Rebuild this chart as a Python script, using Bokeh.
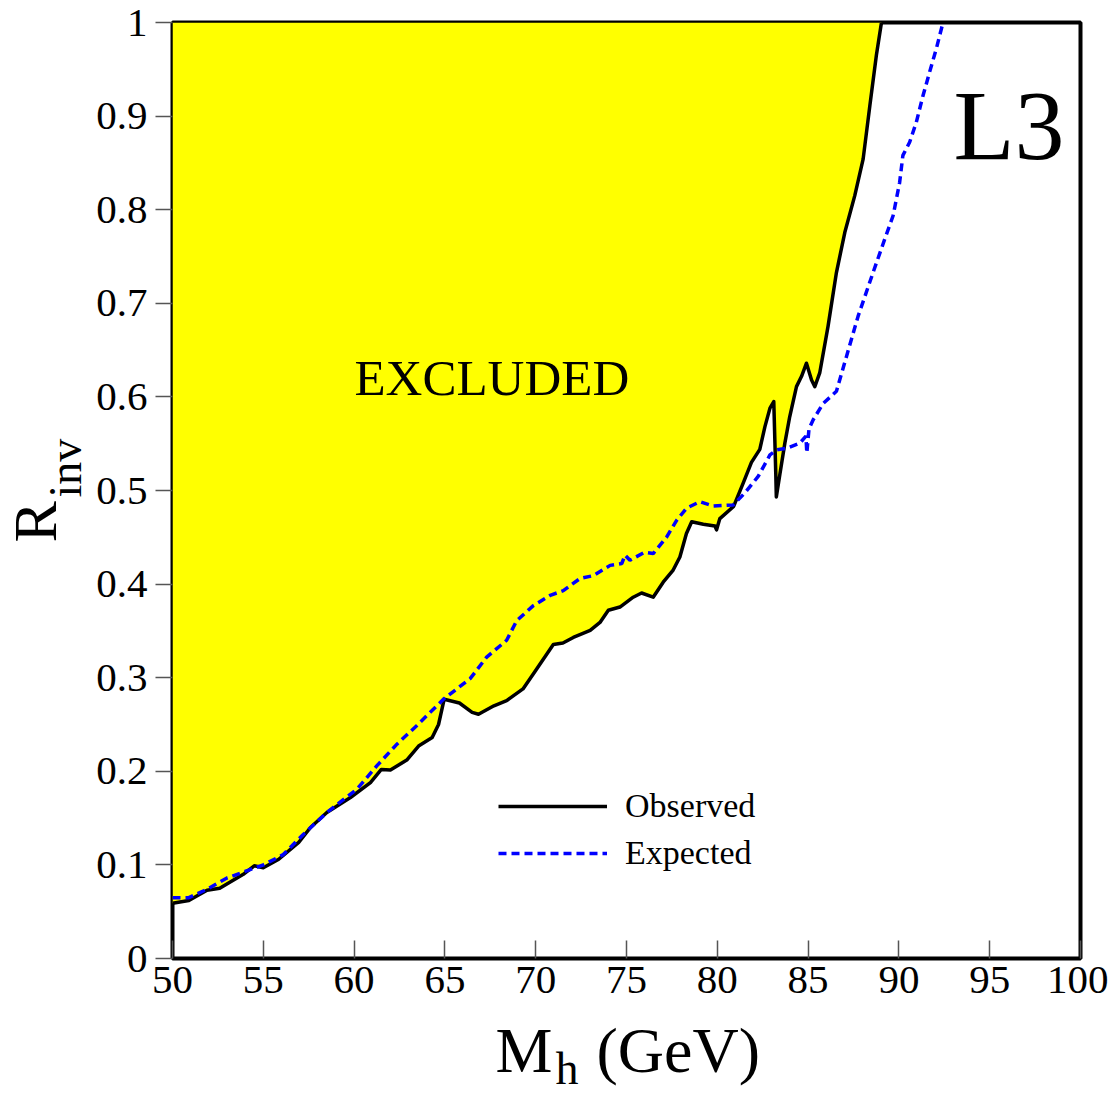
import math
from bokeh.plotting import figure
from bokeh.models import Range1d, FixedTicker, Label, Legend, LegendItem
from bokeh.layouts import row, column
from bokeh.embed import file_html
from bokeh.resources import INLINE

# Observed limit (Higgs mass in GeV, R_inv)
obs_mass = [50.0, 50.9, 51.9, 52.6, 53.9, 54.5, 55.0, 55.85, 56.95, 57.6, 58.5, 59.8,
            60.9, 61.5, 62.0, 62.9, 63.55, 64.3, 64.65, 64.96, 65.8, 66.5, 66.85, 67.7,
            68.4, 69.3, 69.97, 70.97, 71.5, 72.07, 73.0, 73.54, 74.0, 74.64, 75.37, 75.83,
            76.47, 77.02, 77.57, 77.94, 78.3, 78.59, 79.23, 79.87, 79.96, 80.14, 80.9,
            81.42, 81.88, 82.34, 82.62, 82.9, 83.11, 83.22, 83.25, 83.44, 83.72, 83.99,
            84.36, 84.64, 84.91, 85.19, 85.37, 85.64, 86.1, 86.56, 87.02, 87.57, 88.03,
            88.4, 88.76, 89.04]
obs_r = [0.059, 0.062, 0.073, 0.075, 0.090, 0.099, 0.097, 0.106, 0.124, 0.140, 0.156, 0.172,
         0.188, 0.202, 0.2015, 0.212, 0.227, 0.236, 0.250, 0.277, 0.273, 0.263, 0.261, 0.270,
         0.2755, 0.288, 0.307, 0.3355, 0.337, 0.343, 0.3505, 0.359, 0.372, 0.3755, 0.386, 0.3905,
         0.386, 0.402, 0.415, 0.429, 0.454, 0.4666, 0.464, 0.462, 0.458, 0.470, 0.483,
         0.5077, 0.530, 0.544, 0.568, 0.588, 0.595, 0.518, 0.493, 0.5166, 0.5506, 0.579,
         0.611, 0.622, 0.636, 0.618, 0.611, 0.6256, 0.6756, 0.7328, 0.7756, 0.815, 0.854,
         0.911, 0.965, 1.0]

# Expected limit
exp_mass = [50.0, 50.9, 51.9, 53.0, 54.0, 55.0, 56.1, 57.2, 58.5, 60.16, 61.26, 62.36,
            63.46, 64.92, 66.39, 67.3, 68.4, 68.96, 69.87, 70.8, 71.52, 72.44, 73.17, 74.1,
            74.74, 74.92, 75.19, 76.0, 76.47, 77.2, 77.76, 78.3, 79.04, 79.77, 80.87, 81.5,
            82.25, 82.9, 83.26, 83.81, 84.54, 84.88, 84.93, 85.05, 85.28, 85.83, 86.56, 87.11,
            87.75, 88.58, 89.22, 89.68, 90.04, 90.22, 90.59, 90.96, 91.33, 91.69, 92.06, 92.43]
exp_r = [0.065, 0.065, 0.074, 0.086, 0.093, 0.100, 0.111, 0.1325, 0.156, 0.181, 0.206, 0.229,
         0.249, 0.277, 0.299, 0.322, 0.340, 0.361, 0.377, 0.388, 0.393, 0.406, 0.409, 0.420,
         0.422, 0.431, 0.4255, 0.434, 0.4326, 0.450, 0.468, 0.481, 0.488, 0.4834, 0.4845, 0.497,
         0.515, 0.538, 0.5434, 0.545, 0.5505, 0.558, 0.540, 0.566, 0.5756, 0.593, 0.606, 0.643,
         0.686, 0.733, 0.7685, 0.7935, 0.829, 0.858, 0.872, 0.8935, 0.922, 0.947, 0.972, 1.0]

x_ticks = [50, 55, 60, 65, 70, 75, 80, 85, 90, 95, 100]
y_ticks = [0, 0.1, 0.2, 0.3, 0.4, 0.5, 0.6, 0.7, 0.8, 0.9, 1.0]
y_tick_labels = ["0", "0.1", "0.2", "0.3", "0.4", "0.5", "0.6", "0.7", "0.8", "0.9", "1"]

X_MIN, X_MAX, Y_MIN, Y_MAX = 50, 100, 0, 1
SERIF = "Liberation Serif"

# ---- layout geometry (pixels) ----
LEFT_W = 92           # strip holding the rotated y title
FRAME_W, FRAME_H = 908, 936
TOP, BOTTOM = 22, 58
MAIN_LEFT, MAIN_RIGHT = 80, 28
MAIN_W = MAIN_LEFT + FRAME_W + MAIN_RIGHT
MAIN_H = TOP + FRAME_H + BOTTOM
XT_H = 80             # strip holding the x title
BASE = 0.38           # baseline offset of Label text (fraction of font size)


def bare(fig):
    fig.background_fill_color = "white"
    fig.border_fill_color = "white"
    fig.outline_line_color = None
    fig.grid.visible = False
    return fig


y_range = Range1d(Y_MIN, Y_MAX)
x_range = Range1d(X_MIN, X_MAX)

p = figure(width=MAIN_W, height=MAIN_H, output_backend="svg", toolbar_location=None,
           x_range=x_range, y_range=y_range,
           min_border_left=MAIN_LEFT, min_border_right=MAIN_RIGHT,
           min_border_top=TOP, min_border_bottom=BOTTOM)
bare(p)
p.outline_line_color = "black"
p.outline_line_width = 4

# excluded region: above the observed curve
patch_x = obs_mass + [obs_mass[0]]
patch_y = obs_r + [Y_MAX]
p.patch(patch_x, patch_y, fill_color="#ffff00", line_color=None)

obs_line = p.line(obs_mass, obs_r, line_color="black", line_width=3.5, line_join="round")
exp_line = p.line(exp_mass, exp_r, line_color="#0000ff", line_width=3.5, line_dash="8 5")

for ax in (p.xaxis[0], p.yaxis[0]):
    ax.axis_line_color = None
    ax.major_tick_line_color = "#555555"
    ax.major_tick_line_width = 1.5
    ax.minor_tick_line_color = None
    ax.major_label_text_font = SERIF
    ax.major_label_text_font_size = "41px"
    ax.major_label_text_color = "black"

p.xaxis.ticker = FixedTicker(ticks=x_ticks)
p.xaxis.major_tick_in = 18
p.xaxis.major_tick_out = 0
p.xaxis.major_label_standoff = 8

p.yaxis.ticker = FixedTicker(ticks=y_ticks)
p.yaxis.major_label_overrides = {t: s for t, s in zip(y_ticks, y_tick_labels)}
p.yaxis.major_tick_in = 0
p.yaxis.major_tick_out = 17
p.yaxis.major_label_standoff = 8

p.add_layout(Label(x=93.0, y=(958 - 162 + BASE * 100) / FRAME_H - 0.0011, text="L3",
                   text_font=SERIF, text_font_size="100px", text_color="black",
                   text_align="left", text_baseline="alphabetic"))
p.add_layout(Label(x=60.02, y=(958 - 397 + BASE * 51) / FRAME_H, text="EXCLUDED",
                   text_font=SERIF, text_font_size="51px", text_color="black",
                   text_align="left", text_baseline="alphabetic"))

legend = Legend(items=[LegendItem(label="Observed", renderers=[obs_line]),
                       LegendItem(label="Expected", renderers=[exp_line])],
                location=(326, 86), orientation="vertical")
legend.border_line_color = None
legend.background_fill_alpha = 0
legend.padding = 0
legend.margin = 0
legend.glyph_width = 109
legend.glyph_height = 30
legend.label_height = 30
legend.spacing = 9
legend.label_standoff = 18
legend.label_text_font = SERIF
legend.label_text_font_size = "34px"
legend.label_text_color = "black"
p.add_layout(legend)

# ---- left strip: y-axis title R_inv (shares the y scale) ----
left = figure(width=LEFT_W, height=MAIN_H, output_backend="svg", toolbar_location=None,
              x_range=Range1d(0, LEFT_W), y_range=y_range,
              x_axis_type=None, y_axis_type=None,
              min_border_left=0, min_border_right=0,
              min_border_top=TOP, min_border_bottom=BOTTOM)
bare(left)
left.add_layout(Label(x=58 - BASE * 62, y=(958 - 542) / FRAME_H, text="R", angle=math.pi / 2,
                      text_font=SERIF, text_font_size="62px", text_color="black",
                      text_align="left", text_baseline="alphabetic"))
left.add_layout(Label(x=82 - BASE * 46, y=(958 - 497) / FRAME_H, text="inv", angle=math.pi / 2,
                      text_font=SERIF, text_font_size="46px", text_color="black",
                      text_align="left", text_baseline="alphabetic"))

# ---- bottom strip: x-axis title M_h (GeV) (shares the x scale) ----
top_px = MAIN_H
bot_px = MAIN_H + XT_H
bottom = figure(width=LEFT_W + MAIN_W, height=XT_H, output_backend="svg", toolbar_location=None,
                x_range=x_range, y_range=Range1d(bot_px, top_px),
                x_axis_type=None, y_axis_type=None,
                min_border_left=LEFT_W + MAIN_LEFT, min_border_right=MAIN_RIGHT,
                min_border_top=0, min_border_bottom=0)
bare(bottom)
bottom.add_layout(Label(x=67.79, y=1074 - BASE * 64, text="M", text_font=SERIF,
                        text_font_size="64px", text_color="black",
                        text_align="left", text_baseline="alphabetic"))
bottom.add_layout(Label(x=71.09, y=1085 - BASE * 46, text="h", text_font=SERIF,
                        text_font_size="46px", text_color="black",
                        text_align="left", text_baseline="alphabetic"))
bottom.add_layout(Label(x=73.35, y=1074 - BASE * 64, text="(GeV)", text_font=SERIF,
                        text_font_size="64px", text_color="black",
                        text_align="left", text_baseline="alphabetic"))

layout = column(row(left, p, spacing=0), bottom, spacing=0)
open("out.html", "w").write(file_html(layout, INLINE))
